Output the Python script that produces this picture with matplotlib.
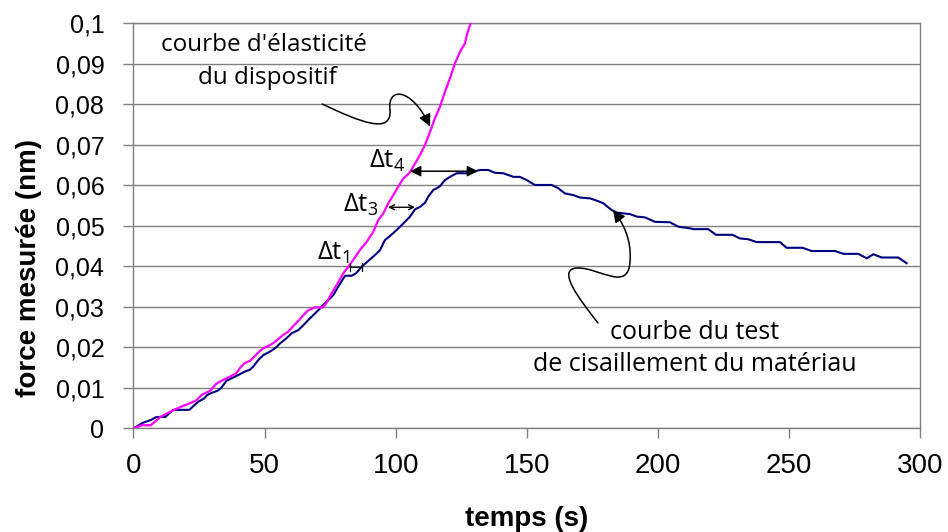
import matplotlib
matplotlib.use("Agg")
import matplotlib.pyplot as plt
from matplotlib.patches import FancyArrowPatch
from matplotlib.path import Path
from matplotlib.ticker import FuncFormatter, MultipleLocator

# Shear test of the material (navy)
test_t = [0, 3.5, 6.6, 8.6, 11.4, 12.1, 13.9, 15.2, 21.3, 22.6, 24.7, 26.9, 28.2, 29.8,
          32.0, 33.3, 35.5, 38.1, 40.0, 42.3, 44.4, 45.7, 47.6, 49.5, 52.1, 54.0, 55.9,
          58.4, 60.3, 62.9, 64.8, 66.7, 68.6, 70.5, 72.4, 74.3, 76.2, 78.1, 80.0, 80.7,
          83.2, 84.9, 87.0, 89.6, 92.1, 94.0, 95.9, 97.8, 100.4, 102.9, 105.5, 107.4,
          109.3, 111.2, 112.4, 114.4, 115.7, 116.9, 118.8, 120.7, 123.3, 127.1, 129.6,
          132.2, 135.3, 137.9, 141.0, 144.9, 147.4, 150.0, 153.1, 159.5, 162.0, 164.6,
          167.8, 170.3, 174.1, 176.0, 179.2, 182.4, 184.3, 186.8, 189.4, 191.9, 195.1,
          198.9, 204.6, 207.8, 212.3, 213.5, 219.2, 222.2, 228.5, 231.3, 234.5, 237.7,
          246.6, 249.1, 255.2, 258.7, 267.6, 270.8, 276.5, 279.7, 282.2, 285.4, 291.7,
          294.9]
test_f = [0.0, 0.0014, 0.0021, 0.0028, 0.0029, 0.0028, 0.0039, 0.0046, 0.0046, 0.0054,
          0.0066, 0.0074, 0.0083, 0.0088, 0.0093, 0.0099, 0.0118, 0.0126, 0.0132, 0.0140,
          0.0145, 0.0153, 0.0169, 0.0181, 0.0190, 0.0198, 0.0210, 0.0223, 0.0235, 0.0243,
          0.0255, 0.0268, 0.0280, 0.0292, 0.0305, 0.0317, 0.0329, 0.0350, 0.0370, 0.0377,
          0.0377, 0.0383, 0.0399, 0.0414, 0.0428, 0.0440, 0.0465, 0.0475, 0.0490, 0.0506,
          0.0523, 0.0541, 0.0547, 0.0557, 0.0572, 0.0589, 0.0593, 0.0598, 0.0613, 0.0621,
          0.0630, 0.0630, 0.0634, 0.0638, 0.0638, 0.0631, 0.0630, 0.0621, 0.0621, 0.0613,
          0.0601, 0.0601, 0.0593, 0.0580, 0.0576, 0.0570, 0.0568, 0.0564, 0.0556, 0.0539,
          0.0533, 0.0531, 0.0529, 0.0523, 0.0521, 0.0510, 0.0509, 0.0498, 0.0494, 0.0492,
          0.0492, 0.0478, 0.0478, 0.0469, 0.0467, 0.0460, 0.0460, 0.0446, 0.0446, 0.0438,
          0.0438, 0.0431, 0.0431, 0.0420, 0.0430, 0.0422, 0.0422, 0.0408]

# Elasticity of the device (magenta)
elast_t = [0, 3.1, 6.6, 8.2, 10.1, 12.7, 15.8, 19.0, 22.2, 24.1, 26.0, 29.2, 31.5, 33.6,
           36.8, 39.1, 40.6, 42.3, 44.4, 45.7, 48.0, 49.5, 52.1, 53.6, 55.6, 57.1, 59.0,
           60.7, 63.2, 65.4, 66.7, 69.2, 72.4, 73.9, 75.6, 77.5, 80.0, 81.9, 83.8, 86.4,
           89.0, 91.5, 93.4, 95.3, 97.2, 99.1, 101.0, 102.9, 104.5, 105.5, 106.7, 107.4,
           109.3, 111.2, 113.1, 115.0, 116.9, 118.8, 120.7, 122.6, 124.5, 126.4, 127.3,
           128.6]
elast_f = [0.0, 0.0008, 0.0008, 0.0017, 0.0028, 0.0037, 0.0047, 0.0056, 0.0064, 0.0070,
           0.0083, 0.0093, 0.0110, 0.0118, 0.0128, 0.0136, 0.0149, 0.0161, 0.0167, 0.0175,
           0.0190, 0.0198, 0.0206, 0.0212, 0.0223, 0.0231, 0.0239, 0.0251, 0.0268, 0.0284,
           0.0292, 0.0299, 0.0299, 0.0313, 0.0334, 0.0354, 0.0383, 0.0399, 0.0416, 0.0441,
           0.0461, 0.0486, 0.0515, 0.0531, 0.0556, 0.0576, 0.0597, 0.0617, 0.0626, 0.0633,
           0.0646, 0.0654, 0.0675, 0.0700, 0.0732, 0.0766, 0.0794, 0.0831, 0.0864, 0.0901,
           0.0929, 0.0950, 0.0975, 0.1000]

x_ticks = [0, 50, 100, 150, 200, 250, 300]
x_label = "temps (s)"
y_label = "force mesurée (nm)"

ANNOT_FONT = ["Open Sans", "DejaVu Sans"]
AXIS_FONT = ["Liberation Sans", "DejaVu Sans"]

plt.rcParams["mathtext.fontset"] = "custom"
plt.rcParams["mathtext.rm"] = "Open Sans"
plt.rcParams["mathtext.it"] = "Open Sans"

fig = plt.figure(figsize=(9.48, 5.32), dpi=100)
ax = fig.add_axes([0.14082, 0.19455, 0.82964, 0.76165])

grey = "#808080"
ax.set_xlim(0, 300)
ax.set_ylim(0, 0.1)
ax.set_xticks(x_ticks)
ax.yaxis.set_major_locator(MultipleLocator(0.01))
ax.yaxis.set_major_formatter(FuncFormatter(
    lambda v, p: "0" if abs(v) < 1e-9 else f"{v:.2f}".rstrip("0").replace(".", ",")))

ax.yaxis.grid(True, color=grey, lw=1.0)
ax.set_axisbelow(True)
for side in ["left", "bottom", "right", "top"]:
    ax.spines[side].set_color(grey)
    ax.spines[side].set_linewidth(1.0)

ax.tick_params(axis="both", direction="out", length=7, width=1.0, color=grey)
ax.tick_params(axis="y", labelsize=18, pad=14)
ax.tick_params(axis="x", labelsize=20, pad=11)
for lab in ax.get_xticklabels() + ax.get_yticklabels():
    lab.set_family(AXIS_FONT)

ax.set_xlabel(x_label, fontsize=20, fontweight="bold", family=AXIS_FONT, va="center")
ax.set_ylabel(y_label, fontsize=20, fontweight="bold", family=AXIS_FONT, va="center")
ax.xaxis.set_label_coords(0.5, -0.223)
ax.yaxis.set_label_coords(-0.133, 0.397)

ax.plot(test_t, test_f, color="#000080", lw=1.5, solid_joinstyle="round", zorder=3)
ax.plot(elast_t, elast_f, color="#ff00ff", lw=1.6, solid_joinstyle="round", zorder=4)

# Curve captions
ax.text(49.8, 0.0946, "courbe d'élasticité", fontsize=17.5, family=ANNOT_FONT,
        ha="center", va="center")
ax.text(51.0, 0.0865, "du dispositif", fontsize=17.5, family=ANNOT_FONT,
        ha="center", va="center")
ax.text(214.0, 0.0236, "courbe du test", fontsize=18, family=ANNOT_FONT,
        ha="center", va="center")
ax.text(214.0, 0.0157, "de cisaillement du matériau", fontsize=18, family=ANNOT_FONT,
        ha="center", va="center")

# Curly leader arrows towards each curve
C4 = Path.CURVE4
top_verts = [(72.0, 0.08008), (86.40, 0.07564), (98.60, 0.07243), (97.84, 0.07860),
             (96.69, 0.08453), (106.23, 0.08404), (113.09, 0.07453)]
top_codes = [Path.MOVETO, C4, C4, C4, C4, C4, C4]
ax.add_patch(FancyArrowPatch(path=Path(top_verts, top_codes), arrowstyle="-|>",
                             mutation_scale=18, lw=1.1, color="black", zorder=6))

low_verts = [(177.18, 0.02604), (170.31, 0.03171), (160.77, 0.03961), (169.54, 0.03961),
             (177.93, 0.03961), (188.61, 0.03369), (189.38, 0.04109),
             (190.15, 0.04701), (186.33, 0.05096), (182.90, 0.05392)]
low_codes = [Path.MOVETO, C4, C4, C4, C4, C4, C4, C4, C4, C4]
ax.add_patch(FancyArrowPatch(path=Path(low_verts, low_codes), arrowstyle="-|>",
                             mutation_scale=18, lw=1.1, color="black", zorder=6))

# Time lags between the two curves
ax.add_patch(FancyArrowPatch((105.5, 0.0635), (131.4, 0.0635), arrowstyle="<|-|>",
                             mutation_scale=16, lw=1.1, color="black",
                             shrinkA=0, shrinkB=0, zorder=6))
ax.add_patch(FancyArrowPatch((97.1, 0.0546), (107.4, 0.0546), arrowstyle="<->",
                             mutation_scale=9, lw=1.0, color="black",
                             shrinkA=0, shrinkB=0, zorder=6))
ax.add_patch(FancyArrowPatch((82.6, 0.0398), (87.2, 0.0398), arrowstyle="|-|",
                             mutation_scale=3, lw=0.9, color="black",
                             shrinkA=0, shrinkB=0, zorder=6))

ax.text(103.7, 0.0643, r"$\mathrm{Δt}_{4}$", fontsize=18.5, ha="right", va="baseline")
ax.text(93.6, 0.0534, r"$\mathrm{Δt}_{3}$", fontsize=18.5, ha="right", va="baseline")
ax.text(82.6, 0.0416, r"$\mathrm{Δt}_{1}$", fontsize=18.5, ha="right", va="baseline")

fig.savefig("out.png", dpi=100)
